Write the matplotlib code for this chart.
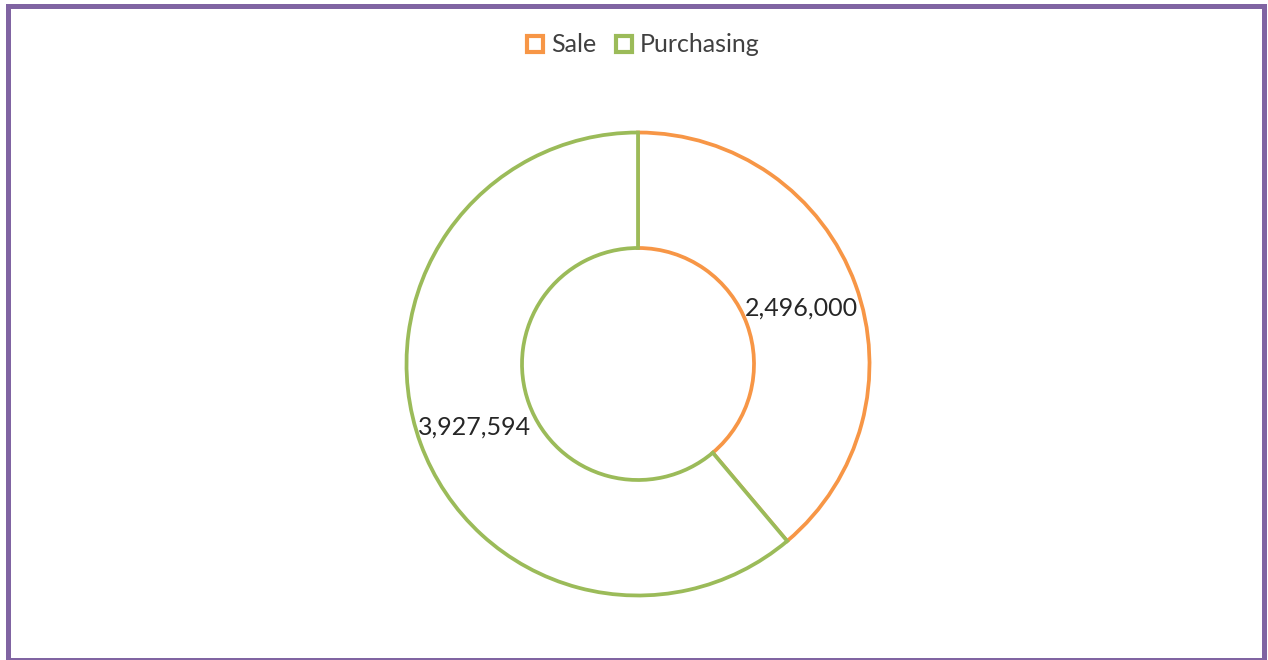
import matplotlib.pyplot as plt
from matplotlib.lines import Line2D
from matplotlib.patches import Rectangle

# chart data
labels = ['Sale', 'Purchasing']
values = [2496000, 3927594]
colors = ['#F79646', '#9BBB59']
total = sum(values)

plt.rcParams['font.family'] = ['Lato', 'DejaVu Sans']

fig = plt.figure(figsize=(12.68, 6.6), dpi=100)
ax = fig.add_axes([0, 0, 1, 1])

# donut with outline-only wedges
wedges, texts, autotexts = ax.pie(
    values, center=(638, 296), radius=231.5, startangle=90, counterclock=False,
    colors=['white'] * len(values),
    wedgeprops=dict(width=115.5, linewidth=2.7),
    autopct=lambda p: f"{round(p * total / 100):,}", pctdistance=0.75,
    textprops=dict(fontsize=18, color='#262626'),
    frame=True)
for w, c in zip(wedges, colors):
    w.set_edgecolor(c)
for t in autotexts:
    x, y = t.get_position()
    t.set_position((x, y - 4))
ax.set_xlim(0, 1268)
ax.set_ylim(0, 660)
ax.set_aspect('equal')
ax.axis('off')

# legend with hollow squares
handles = [Line2D([], [], linestyle='none', marker='s', markersize=11,
                  markerfacecolor='white', markeredgecolor=c, markeredgewidth=3)
           for c in colors]
fig.legend(handles, labels, loc='center', bbox_to_anchor=(642 / 1268, 1 - 45 / 660),
           ncol=2, frameon=False, fontsize=18, handlelength=0.8,
           handletextpad=0.25, columnspacing=0.7, labelcolor='#404040')

# purple border round the chart
fig.patches.append(Rectangle((7.5 / 1268, 0 / 660), 1256.5 / 1268, 654.5 / 660,
                             transform=fig.transFigure, fill=False,
                             edgecolor='#8064A2', linewidth=3.6))

fig.savefig('out.png', dpi=100)
